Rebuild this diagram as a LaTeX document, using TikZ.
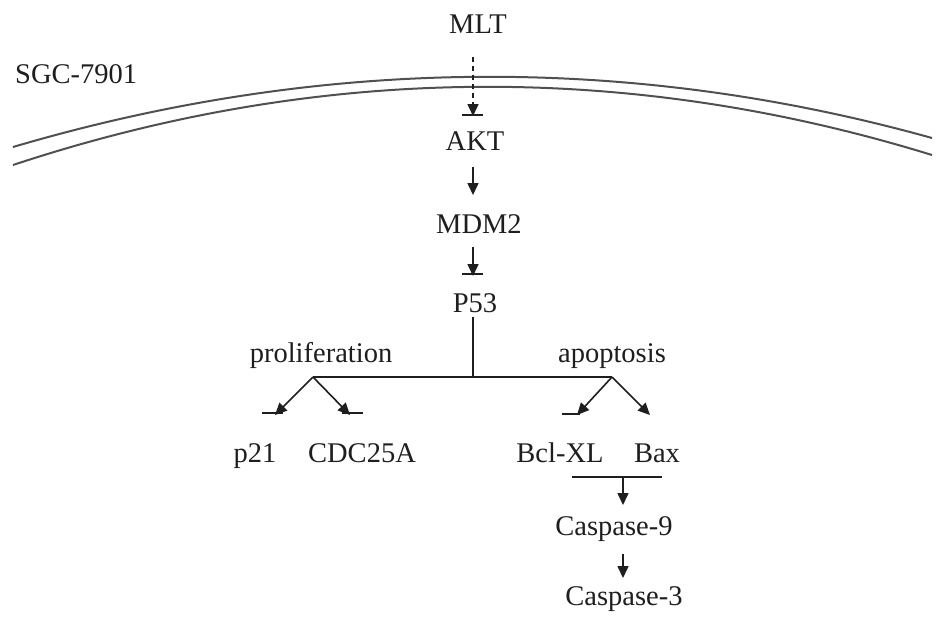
\documentclass[tikz,border=0pt]{standalone}
\usepackage{fontspec}
\setmainfont{Liberation Serif}
\usetikzlibrary{arrows.meta}
\definecolor{ink}{HTML}{1E1E1E}
\definecolor{memb}{HTML}{505050}
\tikzset{
  lbl/.style={inner sep=0pt, anchor=base, text=ink, font=\fontsize{28.5}{34}\selectfont},
  conn/.style={draw=ink, line width=1.6pt},
  arr/.style={conn, -{Triangle[length=12pt,width=11pt]}},
  membrane/.style={draw=memb, line width=2pt},
}
\begin{document}
\begin{tikzpicture}[x=1pt,y=-1pt]
\useasboundingbox (0,0) rectangle (945,622);
% membrane
\draw[membrane] (13,147) .. controls (318,57) and (627,53) .. (932,138);
\draw[membrane] (13,165) .. controls (318,64) and (627,61) .. (932,155);
% labels
\node[lbl] (MLT) at (478,33) {MLT};
\node[lbl, anchor=base west] (SGC) at (15,83) {SGC-7901};
\node[lbl] (AKT) at (475,150) {AKT};
\node[lbl] (MDM2) at (479,233) {MDM2};
\node[lbl] (P53) at (475,312) {P53};
\node[lbl] (prol) at (321,362) {proliferation};
\node[lbl] (apop) at (612,362) {apoptosis};
\node[lbl] (p21) at (255,462) {p21};
\node[lbl] (cdc) at (362,462) {CDC25A};
\node[lbl] (bcl) at (560,462) {Bcl-XL};
\node[lbl] (bax) at (657,462) {Bax};
\node[lbl] (c9) at (614,535) {Caspase-9};
\node[lbl] (c3) at (624,605) {Caspase-3};
% named coordinates
\coordinate (t1) at (473,116);
\coordinate (t2) at (473,195);
\coordinate (t3) at (473,276);
\coordinate (j) at (473,377);
\coordinate (bL) at (313,377);
\coordinate (bR) at (612,377);
\coordinate (tp21) at (275,415);
\coordinate (tcdc) at (350,415);
\coordinate (tbcl) at (577,415);
\coordinate (tbax) at (650,415);
\coordinate (jb) at (623,477);
\coordinate (t9) at (623,505);
\coordinate (t3c) at (623,578);
% MLT -> AKT (dashed, inhibition)
\draw[arr, dash pattern=on 5pt off 4pt, shorten <=24pt] (MLT.south -| t1) -- (t1);
\draw[conn] ([xshift=-11pt,yshift=1pt]t1) -- ([xshift=10pt,yshift=1pt]t1);
% AKT -> MDM2
\draw[arr, shorten <=17pt] (AKT.south -| t2) -- (t2);
% MDM2 -| P53
\draw[arr, shorten <=14pt] (MDM2.south -| t3) -- (t3);
\draw[conn] ([xshift=-11pt,yshift=2pt]t3) -- ([xshift=10pt,yshift=2pt]t3);
% P53 to junction
\draw[conn, shorten <=5pt] (P53.south -| j) -- (j);
\draw[conn] (bL) -- (bR);
% proliferation branch
\draw[arr] (bL) -- (tp21);
\draw[conn] ([xshift=-13pt,yshift=2pt]tp21) -- ([xshift=8pt,yshift=2pt]tp21);
\draw[arr] (bL) -- (tcdc);
\draw[conn] ([xshift=-8pt,yshift=2pt]tcdc) -- ([xshift=13pt,yshift=2pt]tcdc);
% apoptosis branch
\draw[arr] (bR) -- (tbcl);
\draw[conn] ([xshift=-15pt,yshift=1pt]tbcl) -- ([xshift=3pt,yshift=1pt]tbcl);
\draw[arr] (bR) -- (tbax);
% Bcl-XL/Bax -> Caspase-9 -> Caspase-3
\draw[conn] (572,477) -- (662,477);
\draw[arr] (jb) -- (t9);
\draw[arr, shorten <=13pt] (c9.south -| t3c) -- (t3c);
\end{tikzpicture}
\end{document}
